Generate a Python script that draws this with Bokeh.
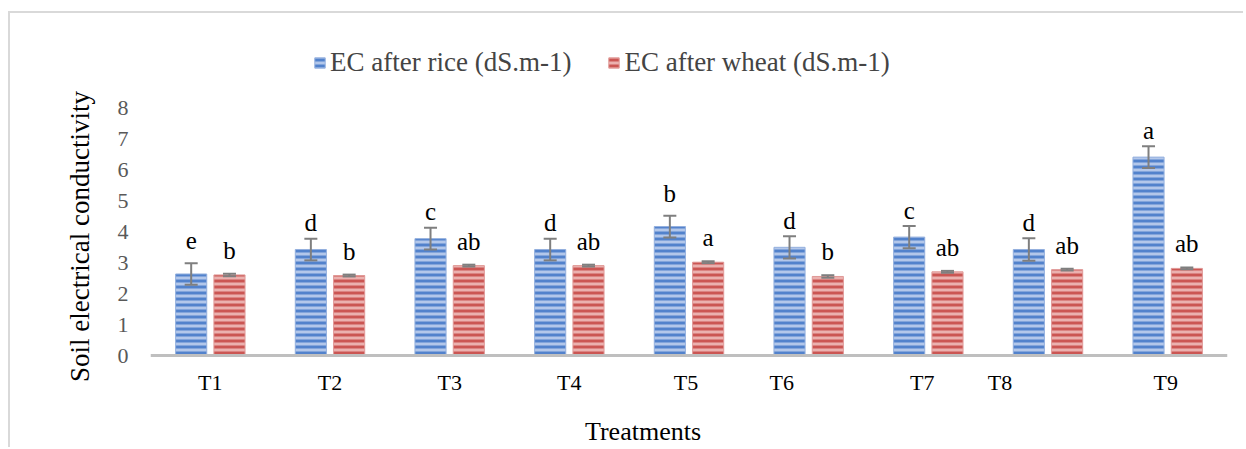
from bokeh.plotting import figure
from bokeh.models import (ColumnDataSource, FactorRange, Range1d, FixedTicker, Whisker,
                          TeeHead, LabelSet, Label, Legend, LegendItem, Span)
from bokeh.transform import dodge
from bokeh.embed import file_html
from bokeh.resources import INLINE

# ---- data ----
treatments = ["T1", "T2", "T3", "T4", "T5", "T6", "T7", "T8", "T9"]
ec_rice = [2.63, 3.42, 3.77, 3.42, 4.16, 3.49, 3.82, 3.42, 6.40]
ec_wheat = [2.60, 2.58, 2.90, 2.90, 3.01, 2.55, 2.70, 2.77, 2.81]
rice_err = [0.35, 0.35, 0.35, 0.35, 0.35, 0.36, 0.36, 0.36, 0.35]
wheat_err = [0.04, 0.03, 0.03, 0.03, 0.03, 0.04, 0.03, 0.03, 0.03]
rice_letters = ["e", "d", "c", "d", "b", "d", "c", "d", "a"]
wheat_letters = ["b", "b", "ab", "ab", "a", "b", "ab", "ab", "ab"]
y_ticks = [0, 1, 2, 3, 4, 5, 6, 7, 8]

# label placement tweaks (pixels, style only)
tick_label_shift = [0, 0, 0, 0, -3, -27, -6, -48, -2]
rice_letter_lift = [14, 8, 8, 8, 14, 7, 7, 7, 7]

src = ColumnDataSource(dict(
    t=treatments,
    rice=ec_rice,
    wheat=ec_wheat,
    rice_up=[v + e for v, e in zip(ec_rice, rice_err)],
    rice_lo=[v - e for v, e in zip(ec_rice, rice_err)],
    wheat_up=[v + e for v, e in zip(ec_wheat, wheat_err)],
    wheat_lo=[v - e for v, e in zip(ec_wheat, wheat_err)],
    rl=rice_letters,
    wl=wheat_letters,
    rlift=rice_letter_lift,
    shift=tick_label_shift,
    zero=[0] * len(treatments),
))

SERIF = "Liberation Serif"

# frame: top at page y 23, bottom at page y 449; 31 px per unit, 0 at page y 355
p = figure(x_range=FactorRange(factors=treatments, range_padding=0),
           y_range=Range1d(-3.032, 10.71),
           width=1235, height=436,
           output_backend="svg", toolbar_location=None,
           min_border_left=140, min_border_right=18,
           min_border_top=10, min_border_bottom=0)
p.styles = {"border-top": "2px solid #d9d9d9", "border-left": "2px solid #d9d9d9",
            "margin-top": "11px", "margin-left": "8px"}

p.outline_line_color = None
p.xgrid.grid_line_color = None
p.ygrid.grid_line_color = None
p.xaxis.visible = False

# y axis
p.yaxis.ticker = FixedTicker(ticks=y_ticks)
p.yaxis.axis_line_color = None
p.yaxis.major_tick_line_color = None
p.yaxis.minor_tick_line_color = None
p.yaxis.major_label_text_color = "#595959"
p.yaxis.major_label_text_font = SERIF
p.yaxis.major_label_text_font_size = "22px"
p.yaxis.major_label_standoff = 16
p.yaxis.axis_label = "Soil electrical conductivity"
p.yaxis.axis_label_text_font = SERIF
p.yaxis.axis_label_text_font_size = "27px"
p.yaxis.axis_label_text_font_style = "normal"
p.yaxis.axis_label_text_color = "black"
p.yaxis.axis_label_standoff = 20

OFF = 0.16
BW = 0.26
r1 = p.vbar(x=dodge("t", -OFF, range=p.x_range), top="rice", width=BW, source=src,
            fill_color="#b3c7ea", hatch_pattern="horizontal_line", hatch_color="#5282cc",
            hatch_scale=6, hatch_weight=3, line_color="#94b0de", line_width=1)
r2 = p.vbar(x=dodge("t", OFF, range=p.x_range), top="wheat", width=BW, source=src,
            fill_color="#ebb1af", hatch_pattern="horizontal_line", hatch_color="#cb5653",
            hatch_scale=6, hatch_weight=3, line_color="#e09a98", line_width=1)

# category axis baseline
p.add_layout(Span(location=0, dimension="width", line_color="#bfbfbf", line_width=3))

for off, up, lo in ((-OFF, "rice_up", "rice_lo"), (OFF, "wheat_up", "wheat_lo")):
    w = Whisker(base=dodge("t", off, range=p.x_range), upper=up, lower=lo, source=src,
                line_color="#7f7f7f", line_width=2, level="annotation",
                upper_head=TeeHead(size=13, line_color="#7f7f7f", line_width=2),
                lower_head=TeeHead(size=13, line_color="#7f7f7f", line_width=2))
    p.add_layout(w)

p.add_layout(LabelSet(x=dodge("t", -OFF, range=p.x_range), y="rice_up", text="rl", source=src,
                      y_offset="rlift", text_align="center", text_baseline="alphabetic",
                      text_font=SERIF, text_font_size="25px", text_color="black"))
p.add_layout(LabelSet(x=dodge("t", OFF, range=p.x_range), y="wheat_up", text="wl", source=src,
                      y_offset=15, text_align="center", text_baseline="alphabetic",
                      text_font=SERIF, text_font_size="25px", text_color="black"))

# category labels under the baseline
p.add_layout(LabelSet(x="t", y="zero", text="t", source=src, x_offset="shift", y_offset=-27,
                      text_align="center", text_baseline="middle",
                      text_font=SERIF, text_font_size="22px", text_color="black"))

# x axis title
p.add_layout(Label(x=len(treatments) / 2, y=0, x_offset=-46, y_offset=-76, text="Treatments",
                   text_align="center", text_baseline="middle",
                   text_font=SERIF, text_font_size="26px", text_color="black"))

legend = Legend(items=[LegendItem(label="EC after rice (dS.m-1)", renderers=[r1]),
                       LegendItem(label="EC after wheat (dS.m-1)", renderers=[r2])],
                orientation="horizontal", location=(163, 371),
                glyph_width=13, glyph_height=13, label_standoff=4, spacing=36,
                padding=0, margin=0, border_line_color=None, background_fill_alpha=0,
                label_text_font=SERIF, label_text_font_size="27px")
p.add_layout(legend)

open("out.html", "w").write(file_html(p, INLINE))
